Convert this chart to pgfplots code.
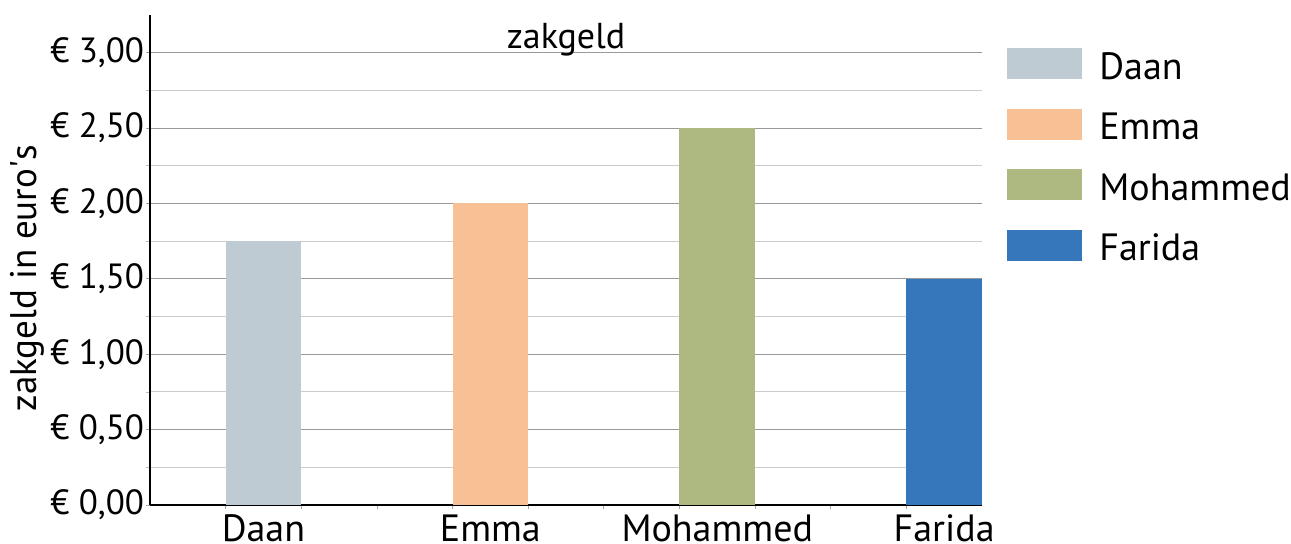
\documentclass[border=0pt]{standalone}
\usepackage{fontspec}
\setmainfont{PT Sans}
\usepackage{pgfplots}
\pgfplotsset{compat=1.18}
\definecolor{cDaan}{HTML}{BFCBD3}
\definecolor{cEmma}{HTML}{F8C195}
\definecolor{cMoh}{HTML}{ADB980}
\definecolor{cFar}{HTML}{3676BB}
\begin{document}
\begin{tikzpicture}
\useasboundingbox (-75pt,-19pt) rectangle (570.5pt,252.5pt);
\begin{axis}[
  at={(0,0)}, anchor=south west,
  width=416pt, height=245pt, scale only axis,
  ybar, bar width=1, bar shift=0pt,
  xmin=0, xmax=11, ymin=0, ymax=3.25,
  axis x line*=bottom, axis y line*=left,
  axis line style={black, line width=0.6pt},
  x axis line style={-}, y axis line style={-},
  xtick={1.5,4.5,7.5,10.5},
  xticklabels={Daan,Emma,Mohammed,Farida},
  minor xtick={1,2,3,4,5,6,7,8,9,10},
  ytick={0,0.5,1,1.5,2,2.5,3},
  yticklabels={{€ 0,00},{€ 0,50},{€ 1,00},{€ 1,50},{€ 2,00},{€ 2,50},{€ 3,00}},
  minor ytick={0.25,0.75,1.25,1.75,2.25,2.75},
  tick align=outside,
  major tick length=2pt, minor tick length=2pt,
  x tick style={draw=none},
  minor x tick style={draw=gray!70, line width=0.4pt},
  y tick style={draw=gray!70, line width=0.4pt},
  minor y tick style={draw=gray!50, line width=0.4pt},
  ymajorgrids, yminorgrids,
  major grid style={draw=black!40, line width=0.5pt},
  minor grid style={draw=black!20, line width=0.5pt},
  xticklabel style={font=\fontsize{19}{22}\selectfont, text=black, yshift=0.5pt, text depth=0pt},
  yticklabel style={font=\fontsize{17.5}{21}\selectfont, text=black, xshift=2.5pt},
  ylabel={zakgeld in euro\textquotesingle s},
  ylabel style={font=\fontsize{18.5}{21}\selectfont, at={(axis description cs:-0.148,0.463)}, anchor=center},
  title={zakgeld},
  title style={font=\fontsize{18}{21}\selectfont, at={(0.5,1)}, anchor=north, yshift=-6.5pt},
  legend style={at={(1.03,0.933)}, anchor=north west, draw=none, fill=none,
    inner sep=0pt, row sep=8.25pt, font=\fontsize{19}{22}\selectfont,
    nodes={inner sep=0pt, text height=12.5pt, text depth=3.5pt}},
  legend cell align=left,
  legend image code/.code={\fill[#1] (0pt,-4.5pt) rectangle (37.5pt,11pt); \path (46pt,-11pt);},
  clip=false,
]
\addplot[fill=cDaan, draw=none] coordinates {(1.5,1.75)};
\addplot[fill=cEmma, draw=none] coordinates {(4.5,2.00)};
\addplot[fill=cMoh, draw=none] coordinates {(7.5,2.50)};
\addplot[fill=cFar, draw=none] coordinates {(10.5,1.50)};
\legend{Daan,Emma,Mohammed,Farida}
\end{axis}
\end{tikzpicture}
\end{document}
